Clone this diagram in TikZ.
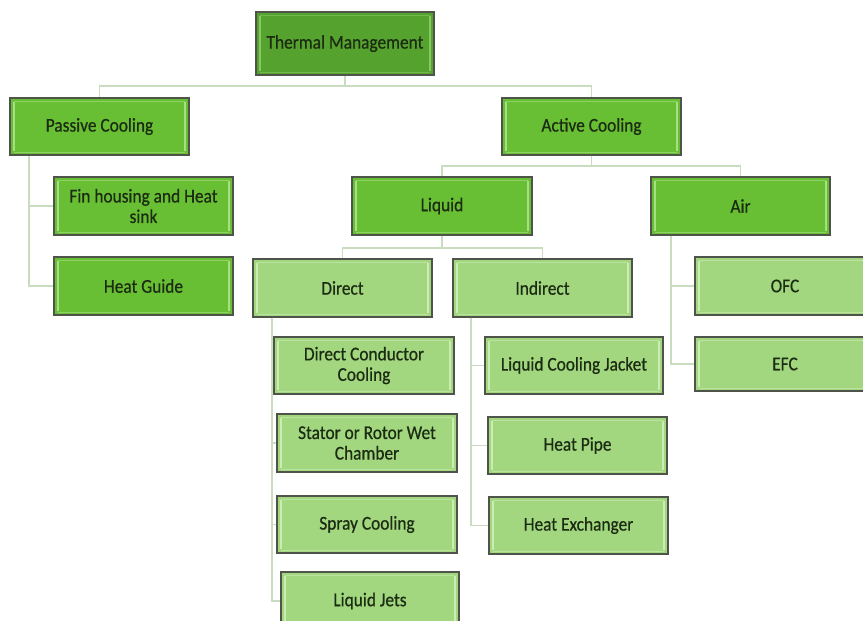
\documentclass[tikz,border=0pt]{standalone}
\usepackage{fontspec}
\setmainfont{Carlito}
\newfontfamily\boxfont[FakeStretch=0.89,FakeBold=0.6]{Carlito}
\definecolor{darkg}{HTML}{55A22F}
\definecolor{midg}{HTML}{68BF33}
\definecolor{lightg}{HTML}{A2D67F}
\definecolor{darkhl}{HTML}{86C862}
\definecolor{midhl}{HTML}{A6DF86}
\definecolor{lighthl}{HTML}{CBEDB4}
\definecolor{bordc}{HTML}{4F544B}
\definecolor{linkc}{HTML}{C9DCBF}
\definecolor{txtc}{HTML}{1C2C12}
\tikzset{
  bevel/.style={path picture={
    \draw[line width=1.6pt,#1] ([xshift=4pt,yshift=-4pt]path picture bounding box.north west) -- ([xshift=4pt,yshift=4pt]path picture bounding box.south west);
    \draw[line width=1.6pt,#1] ([xshift=-4pt,yshift=-4pt]path picture bounding box.north east) -- ([xshift=-4pt,yshift=4pt]path picture bounding box.south east);
    \draw[line width=0.6pt,#1,opacity=0.6] ([xshift=4pt,yshift=-3pt]path picture bounding box.north west) -- ([xshift=-4pt,yshift=-3pt]path picture bounding box.north east);
    \draw[line width=0.6pt,#1,opacity=0.6] ([xshift=4pt,yshift=3pt]path picture bounding box.south west) -- ([xshift=-4pt,yshift=3pt]path picture bounding box.south east);
  }},
  box/.style={draw=bordc, line width=1.1pt, rectangle, inner sep=0pt, align=center,
    minimum width=179pt, minimum height=58pt, text=txtc,
    font=\boxfont\fontsize{19.5}{20.5}\selectfont},
  topbox/.style={box, fill=darkg, bevel=darkhl},
  midbox/.style={box, fill=midg, bevel=midhl},
  leafbox/.style={box, fill=lightg, bevel=lighthl},
  link/.style={draw=linkc, line width=1.5pt},
}
\begin{document}
\begin{tikzpicture}[x=1pt,y=-1pt]
\useasboundingbox (0,0) rectangle (863,621);
\fill[white] (0,0) rectangle (863,621);

% nodes
\node[topbox, minimum width=178pt, minimum height=63pt] (T) at (345,43.5) {Thermal Management};
\node[midbox, minimum height=57pt] (P) at (99.5,126.5) {Passive Cooling};
\node[midbox, minimum height=57pt] (A) at (591.5,126.5) {Active Cooling};
\node[midbox] (F) at (143.5,206) {Fin housing and Heat\\sink};
\node[midbox] (HG) at (143.5,286) {Heat Guide};
\node[midbox, minimum width=180pt] (L) at (442,206) {Liquid};
\node[midbox] (AI) at (740.5,206) {Air};
\node[leafbox] (D) at (342.5,288) {Direct};
\node[leafbox] (I) at (542.5,288) {Indirect};
\node[leafbox, minimum width=180pt, minimum height=57pt] (DC) at (364,365.5) {Direct Conductor\\Cooling};
\node[leafbox, minimum width=180pt] (SR) at (367,443) {Stator or Rotor Wet\\Chamber};
\node[leafbox, minimum width=180pt, minimum height=57pt] (SC) at (367,524.5) {Spray Cooling};
\node[leafbox, minimum width=178pt] (LJ) at (370,601) {Liquid Jets};
\node[leafbox, minimum width=178pt, minimum height=57pt] (LC) at (574,365.5) {Liquid Cooling Jacket};
\node[leafbox, minimum height=57pt] (HP) at (577.5,445.5) {Heat Pipe};
\node[leafbox, minimum height=57pt] (HE) at (578.5,525.5) {Heat Exchanger};
\node[leafbox, minimum width=180pt] (OF) at (785,286) {OFC};
\node[leafbox, minimum width=180pt, minimum height=54pt] (EF) at (785,364) {EFC};

% connectors
\path[link] (T.south) -- (T.south |- 0,86) -| (P.north);
\path[link] (T.south) -- (T.south |- 0,86) -| (A.north);
\path[link] (P.south -| 29,0) |- (F.west);
\path[link] (P.south -| 29,0) |- (HG.west);
\path[link] (A.south) -- (A.south |- 0,166) -| (L.north);
\path[link] (A.south) -- (A.south |- 0,166) -| (AI.north);
\path[link] (L.south) -- (L.south |- 0,248) -| (D.north);
\path[link] (L.south) -- (L.south |- 0,248) -| (I.north);
\path[link] (D.south -| 272,0) |- (DC.west);
\path[link] (D.south -| 272,0) |- (SR.west);
\path[link] (D.south -| 272,0) |- (SC.west);
\path[link] (D.south -| 272,0) |- (LJ.west);
\path[link] (I.south -| 471,0) |- (LC.west);
\path[link] (I.south -| 471,0) |- (HP.west);
\path[link] (I.south -| 471,0) |- (HE.west);
\path[link] (AI.south -| 671,0) |- (OF.west);
\path[link] (AI.south -| 671,0) |- (EF.west);
\end{tikzpicture}
\end{document}
